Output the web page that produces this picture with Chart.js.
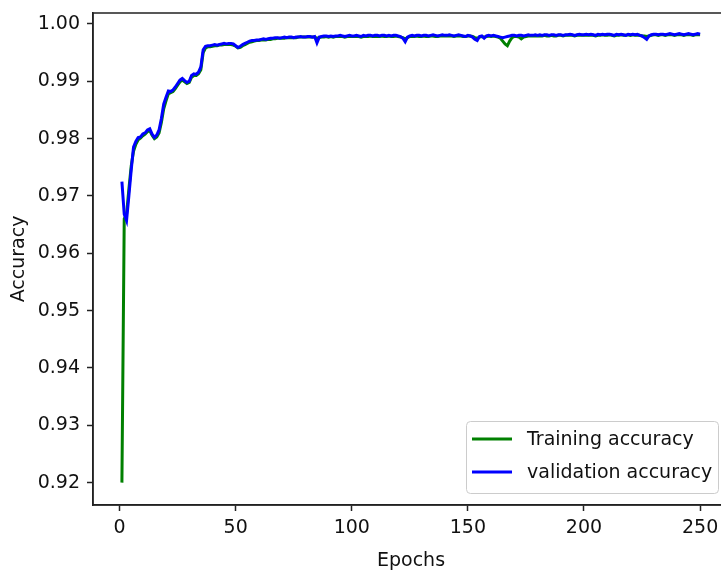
<!DOCTYPE html>
<html>
<head>
<meta charset="utf-8">
<script src="https://cdn.jsdelivr.net/npm/chart.js@4.4.1/dist/chart.umd.min.js"></script>
<style>
  html, body { margin: 0; padding: 0; background: #fff; overflow: hidden; }
  #wrap { width: 740px; height: 572px; }
</style>
</head>
<body>
<div id="wrap"><canvas id="chart" width="740" height="572"></canvas></div>
<script>

// epochs 1..250
const epochs = Array.from( { length: 250 }, ( _, i ) => i + 1 )

const trainingAcc = [
  0.9200, 0.9660, 0.9668, 0.9712, 0.9752, 0.9778, 0.9790, 0.9798, 0.9801, 0.9805,
  0.9808, 0.9812, 0.9814, 0.9806, 0.9800, 0.9803, 0.9810, 0.9828, 0.9852, 0.9866,
  0.9878, 0.9880, 0.9882, 0.9887, 0.9893, 0.9899, 0.9902, 0.9899, 0.9896, 0.9898,
  0.9907, 0.9910, 0.9910, 0.9913, 0.9920, 0.9950, 0.9958, 0.9960, 0.9960, 0.9961,
  0.9962, 0.9962, 0.9963, 0.9963, 0.9964, 0.9964, 0.9964, 0.9964, 0.9963, 0.9961,
  0.9958, 0.9959, 0.9962, 0.9964, 0.9966, 0.9968, 0.9969, 0.9970, 0.9971, 0.9971,
  0.9972, 0.9972, 0.9972, 0.9973, 0.9973, 0.9974, 0.9974, 0.9975, 0.9975, 0.9975,
  0.9975, 0.9976, 0.9976, 0.9976, 0.9976, 0.9976, 0.9977, 0.9977, 0.9977, 0.9977,
  0.9977, 0.9977, 0.9977, 0.9977, 0.9975, 0.9976, 0.9977, 0.9977, 0.9978, 0.9977,
  0.9978, 0.9977, 0.9978, 0.9978, 0.9978, 0.9978, 0.9977, 0.9978, 0.9978, 0.9978,
  0.9978, 0.9978, 0.9978, 0.9977, 0.9978, 0.9978, 0.9978, 0.9979, 0.9978, 0.9978,
  0.9978, 0.9978, 0.9979, 0.9978, 0.9978, 0.9979, 0.9978, 0.9978, 0.9979, 0.9978,
  0.9977, 0.9976, 0.9974, 0.9976, 0.9978, 0.9978, 0.9978, 0.9979, 0.9978, 0.9978,
  0.9979, 0.9978, 0.9978, 0.9979, 0.9979, 0.9978, 0.9978, 0.9979, 0.9979, 0.9979,
  0.9979, 0.9979, 0.9979, 0.9978, 0.9979, 0.9979, 0.9979, 0.9978, 0.9978, 0.9979,
  0.9979, 0.9978, 0.9976, 0.9975, 0.9977, 0.9978, 0.9977, 0.9978, 0.9979, 0.9978,
  0.9979, 0.9978, 0.9977, 0.9975, 0.9970, 0.9965, 0.9962, 0.9970, 0.9976, 0.9978,
  0.9978, 0.9977, 0.9974, 0.9977, 0.9978, 0.9979, 0.9979, 0.9979, 0.9979, 0.9979,
  0.9979, 0.9979, 0.9980, 0.9979, 0.9979, 0.9980, 0.9979, 0.9979, 0.9980, 0.9980,
  0.9979, 0.9980, 0.9980, 0.9980, 0.9980, 0.9979, 0.9980, 0.9980, 0.9980, 0.9980,
  0.9980, 0.9980, 0.9980, 0.9980, 0.9979, 0.9980, 0.9980, 0.9981, 0.9980, 0.9980,
  0.9981, 0.9980, 0.9979, 0.9980, 0.9980, 0.9981, 0.9980, 0.9980, 0.9981, 0.9980,
  0.9981, 0.9980, 0.9980, 0.9980, 0.9979, 0.9979, 0.9978, 0.9979, 0.9980, 0.9981,
  0.9981, 0.9980, 0.9981, 0.9981, 0.9980, 0.9981, 0.9981, 0.9981, 0.9980, 0.9981,
  0.9981, 0.9981, 0.9980, 0.9981, 0.9981, 0.9981, 0.9980, 0.9981, 0.9981, 0.9981
]

const validationAcc = [
  0.9725, 0.9668, 0.9657, 0.9700, 0.9745, 0.9785, 0.9795, 0.9802, 0.9803, 0.9808,
  0.9810, 0.9815, 0.9817, 0.9808, 0.9802, 0.9806, 0.9815, 0.9835, 0.9860, 0.9872,
  0.9883, 0.9882, 0.9885, 0.9890, 0.9896, 0.9902, 0.9905, 0.9901, 0.9898, 0.9900,
  0.9910, 0.9913, 0.9912, 0.9916, 0.9925, 0.9955, 0.9961, 0.9962, 0.9962, 0.9963,
  0.9964, 0.9963, 0.9964, 0.9965, 0.9966, 0.9965, 0.9966, 0.9966, 0.9965, 0.9962,
  0.9959, 0.9961, 0.9964, 0.9966, 0.9968, 0.9970, 0.9971, 0.9971, 0.9972, 0.9972,
  0.9973, 0.9974, 0.9973, 0.9974, 0.9975, 0.9975, 0.9976, 0.9976, 0.9975, 0.9976,
  0.9977, 0.9976, 0.9977, 0.9977, 0.9976, 0.9977, 0.9977, 0.9978, 0.9977, 0.9977,
  0.9978, 0.9978, 0.9977, 0.9978, 0.9967, 0.9977, 0.9978, 0.9979, 0.9979, 0.9978,
  0.9979, 0.9978, 0.9979, 0.9979, 0.9980, 0.9979, 0.9978, 0.9979, 0.9980, 0.9979,
  0.9979, 0.9980, 0.9979, 0.9978, 0.9980, 0.9979, 0.9980, 0.9980, 0.9979, 0.9980,
  0.9980, 0.9979, 0.9980, 0.9980, 0.9979, 0.9980, 0.9979, 0.9980, 0.9980, 0.9979,
  0.9978, 0.9975, 0.9969, 0.9977, 0.9979, 0.9980, 0.9979, 0.9980, 0.9980, 0.9979,
  0.9980, 0.9980, 0.9979, 0.9980, 0.9981, 0.9980, 0.9979, 0.9980, 0.9981, 0.9980,
  0.9980, 0.9981, 0.9980, 0.9979, 0.9980, 0.9981, 0.9980, 0.9979, 0.9978, 0.9980,
  0.9979, 0.9977, 0.9973, 0.9971, 0.9978, 0.9979, 0.9975, 0.9979, 0.9980, 0.9979,
  0.9980, 0.9979, 0.9978, 0.9977, 0.9976, 0.9977, 0.9978, 0.9979, 0.9980, 0.9980,
  0.9979, 0.9980, 0.9980, 0.9979, 0.9980, 0.9981, 0.9980, 0.9980, 0.9981, 0.9980,
  0.9981, 0.9980, 0.9981, 0.9981, 0.9980, 0.9981, 0.9981, 0.9980, 0.9981, 0.9981,
  0.9980, 0.9981, 0.9981, 0.9982, 0.9981, 0.9980, 0.9981, 0.9982, 0.9981, 0.9981,
  0.9982, 0.9981, 0.9982, 0.9981, 0.9980, 0.9982, 0.9981, 0.9982, 0.9981, 0.9982,
  0.9982, 0.9981, 0.9980, 0.9982, 0.9981, 0.9982, 0.9981, 0.9980, 0.9982, 0.9981,
  0.9982, 0.9981, 0.9982, 0.9980, 0.9979, 0.9976, 0.9973, 0.9979, 0.9981, 0.9982,
  0.9982, 0.9981, 0.9982, 0.9982, 0.9981, 0.9982, 0.9983, 0.9982, 0.9981, 0.9982,
  0.9983, 0.9982, 0.9981, 0.9982, 0.9983, 0.9982, 0.9981, 0.9982, 0.9983, 0.9982
]

const xTicks = [ 0, 50, 100, 150, 200, 250 ]
const yTicks = [ 0.92, 0.93, 0.94, 0.95, 0.96, 0.97, 0.98, 0.99, 1.00 ]

const FONT = `'DejaVu Sans', sans-serif`
const TEXT = '#111'

Chart.defaults.font.family = FONT
Chart.defaults.font.size = 19
Chart.defaults.color = TEXT

// matplotlib-ish box round the plot
const frame = {
  id: 'frame',
  afterDatasetsDraw( chart ) {
    const { ctx, chartArea: a } = chart
    ctx.save()
    ctx.strokeStyle = '#222'
    ctx.lineWidth = 1.5
    ctx.strokeRect( a.left, a.top, a.right - a.left, a.bottom - a.top )
    ctx.restore()
  }
}

// legend inside the axes, lower right
const boxLegend = {
  id: 'boxLegend',
  afterDraw( chart ) {
    const { ctx } = chart
    const sets = [ ...chart.data.datasets ].sort( ( a, b ) => a.legendPos - b.legendPos )
    const x = 466, y = 421, w = 252, h = 72, r = 4
    ctx.save()
    ctx.fillStyle = 'rgba(255,255,255,0.85)'
    ctx.strokeStyle = '#cccccc'
    ctx.lineWidth = 1
    ctx.beginPath()
    ctx.roundRect( x + 0.5, y + 0.5, w, h, r )
    ctx.fill()
    ctx.stroke()
    ctx.font = `19px ${FONT}`
    ctx.textBaseline = 'middle'
    sets.forEach( ( ds, i ) => {
      const ly = y + 18 + i * 33
      ctx.strokeStyle = ds.borderColor
      ctx.lineWidth = 3
      ctx.beginPath()
      ctx.moveTo( x + 6, ly )
      ctx.lineTo( x + 46, ly )
      ctx.stroke()
      ctx.fillStyle = TEXT
      ctx.fillText( ds.label, x + 61, ly + 1 )
    } )
    ctx.restore()
  }
}

// drop the label overflow padding so layout padding alone sets the plot box
const noEdgePad = s => {
  s.paddingTop = 0
  s.paddingBottom = 0
  s.paddingLeft = 0
  s.paddingRight = 0
}

new Chart( document.getElementById( 'chart' ), {
  type: 'line',
  data: {
    datasets: [
      {
        label: 'Training accuracy',
        data: epochs.map( ( e, i ) => ( { x: e, y: trainingAcc[ i ] } ) ),
        borderColor: '#008000',
        borderWidth: 3,
        pointRadius: 0,
        tension: 0,
        order: 1,
        legendPos: 0
      },
      {
        label: 'validation accuracy',
        data: epochs.map( ( e, i ) => ( { x: e, y: validationAcc[ i ] } ) ),
        borderColor: '#0000ff',
        borderWidth: 3,
        pointRadius: 0,
        tension: 0,
        order: 0,
        legendPos: 1
      }
    ]
  },
  options: {
    responsive: false,
    animation: false,
    layout: { padding: { top: 13, right: 11, left: 0, bottom: 0 } },
    plugins: {
      legend: { display: false },
      tooltip: { enabled: false }
    },
    scales: {
      x: {
        type: 'linear',
        min: -11.45,
        max: 262.45,
        afterBuildTicks: s => { s.ticks = xTicks.map( v => ( { value: v } ) ) },
        afterFit: s => { s.height = 67; noEdgePad( s ) },
        ticks: { padding: 6, color: TEXT },
        grid: { drawOnChartArea: false, drawTicks: true, tickLength: 6, tickColor: '#222', tickWidth: 1.5 },
        border: { display: true, color: '#222', width: 1.5 },
        title: { display: true, text: 'Epochs', color: TEXT, padding: { top: 0, bottom: 0 } }
      },
      y: {
        min: 0.9161,
        max: 1.0019,
        afterBuildTicks: s => { s.ticks = yTicks.map( v => ( { value: v } ) ) },
        afterFit: s => { s.width = 93; noEdgePad( s ) },
        ticks: { padding: 7, color: TEXT, callback: v => v.toFixed( 2 ) },
        grid: { drawOnChartArea: false, drawTicks: true, tickLength: 6, tickColor: '#222', tickWidth: 1.5 },
        border: { display: true, color: '#222', width: 1.5 },
        title: { display: true, text: 'Accuracy', color: TEXT, padding: { top: 8, bottom: 0 } }
      }
    }
  },
  plugins: [ frame, boxLegend ]
} )

</script>
</body>
</html>
